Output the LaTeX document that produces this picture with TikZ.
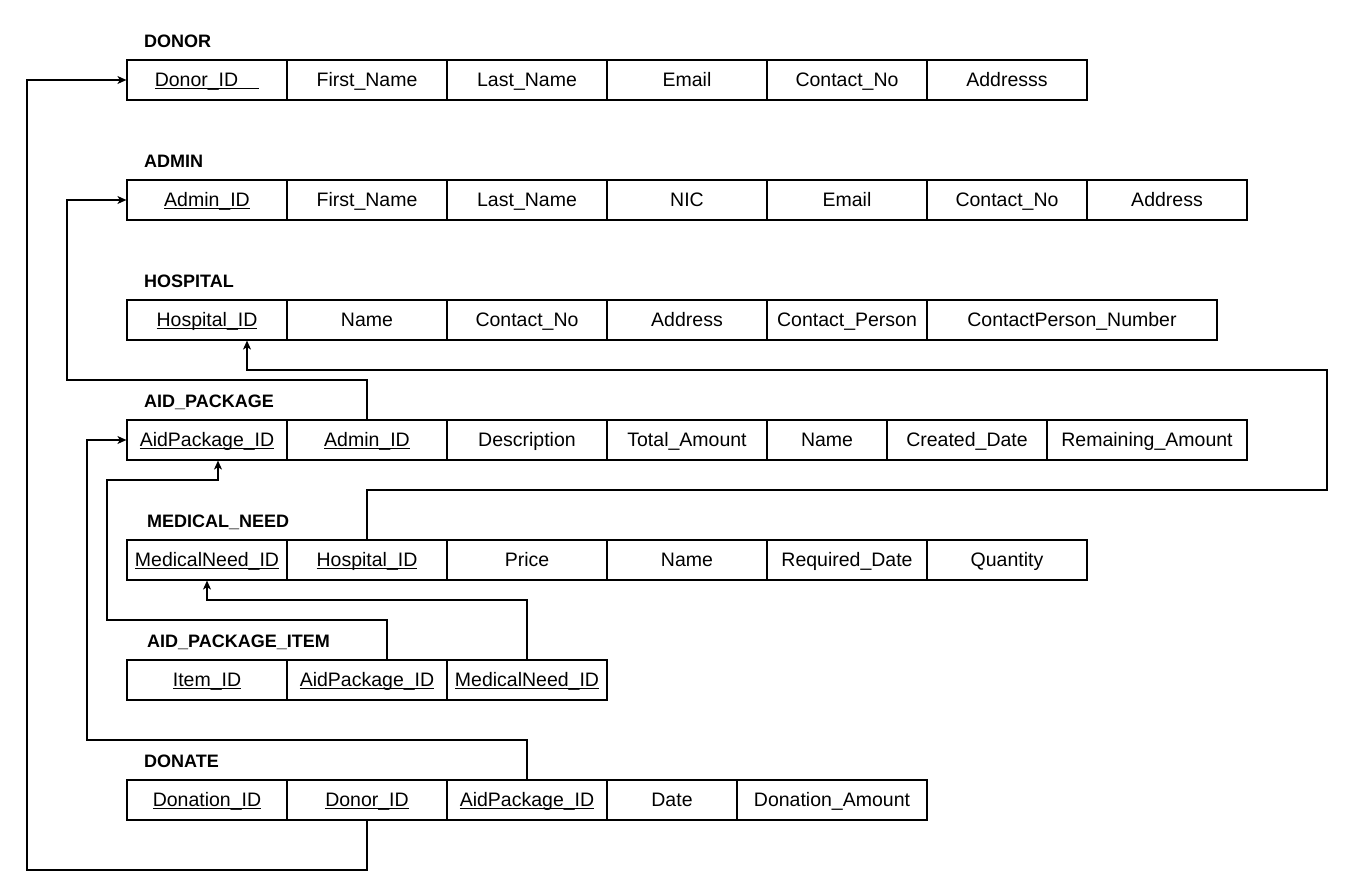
\documentclass[tikz,border=0pt]{standalone}
\usepackage{fontspec}
\setmainfont{Liberation Sans}
\usetikzlibrary{arrows.meta}
\newcommand\ulk[1]{\setbox0\hbox{#1}\rlap{\rule[-2.6pt]{\wd0}{1.1pt}}\box0}
\tikzset{
  cell/.style={draw=black, line width=1.2pt, minimum height=40pt, inner sep=0pt, anchor=center,
    text height=14pt, text depth=0.6pt,
    font=\fontsize{19.5}{23}\selectfont},
  ttl/.style={anchor=west, inner sep=0pt, text height=13pt, text depth=0pt, font=\fontsize{18}{22}\selectfont\bfseries},
  conn/.style={draw=black, line width=1.2pt, -{Stealth[length=9pt,width=8pt,inset=2.5pt]}},
}
\begin{document}
\begin{tikzpicture}[x=1pt,y=-1pt]
\useasboundingbox (0,0) rectangle (1350,893);
% DONOR
\node[ttl] (tdonor) at (144,41) {DONOR};
\node[cell,minimum width=160pt] (d1) at (207,80) {\ulk{Donor\_ID\hspace{21pt}}};
\node[cell,minimum width=160pt] (d2) at (367,80) {First\_Name};
\node[cell,minimum width=160pt] (d3) at (527,80) {Last\_Name};
\node[cell,minimum width=160pt] (d4) at (687,80) {Email};
\node[cell,minimum width=160pt] (d5) at (847,80) {Contact\_No};
\node[cell,minimum width=160pt] (d6) at (1007,80) {Addresss};
% ADMIN
\node[ttl] (tadmin) at (144,161) {ADMIN};
\node[cell,minimum width=160pt] (a1) at (207,200) {\ulk{Admin\_ID}};
\node[cell,minimum width=160pt] (a2) at (367,200) {First\_Name};
\node[cell,minimum width=160pt] (a3) at (527,200) {Last\_Name};
\node[cell,minimum width=160pt] (a4) at (687,200) {NIC};
\node[cell,minimum width=160pt] (a5) at (847,200) {Email};
\node[cell,minimum width=160pt] (a6) at (1007,200) {Contact\_No};
\node[cell,minimum width=160pt] (a7) at (1167,200) {Address};
% HOSPITAL
\node[ttl] (thosp) at (144,281) {HOSPITAL};
\node[cell,minimum width=160pt] (h1) at (207,320) {\ulk{Hospital\_ID}};
\node[cell,minimum width=160pt] (h2) at (367,320) {Name};
\node[cell,minimum width=160pt] (h3) at (527,320) {Contact\_No};
\node[cell,minimum width=160pt] (h4) at (687,320) {Address};
\node[cell,minimum width=160pt] (h5) at (847,320) {Contact\_Person};
\node[cell,minimum width=290pt] (h6) at (1072,320) {ContactPerson\_Number};
% AID_PACKAGE
\node[ttl] (tap) at (144,401) {AID\_PACKAGE};
\node[cell,minimum width=160pt] (ap1) at (207,440) {\ulk{AidPackage\_ID}};
\node[cell,minimum width=160pt] (ap2) at (367,440) {\ulk{Admin\_ID}};
\node[cell,minimum width=160pt] (ap3) at (527,440) {Description};
\node[cell,minimum width=160pt] (ap4) at (687,440) {Total\_Amount};
\node[cell,minimum width=120pt] (ap5) at (827,440) {Name};
\node[cell,minimum width=160pt] (ap6) at (967,440) {Created\_Date};
\node[cell,minimum width=200pt] (ap7) at (1147,440) {Remaining\_Amount};
% MEDICAL_NEED
\node[ttl] (tmn) at (147,521) {MEDICAL\_NEED};
\node[cell,minimum width=160pt] (m1) at (207,560) {\ulk{MedicalNeed\_ID}};
\node[cell,minimum width=160pt] (m2) at (367,560) {\ulk{Hospital\_ID}};
\node[cell,minimum width=160pt] (m3) at (527,560) {Price};
\node[cell,minimum width=160pt] (m4) at (687,560) {Name};
\node[cell,minimum width=160pt] (m5) at (847,560) {Required\_Date};
\node[cell,minimum width=160pt] (m6) at (1007,560) {Quantity};
% AID_PACKAGE_ITEM
\node[ttl] (tai) at (147,641) {AID\_PACKAGE\_ITEM};
\node[cell,minimum width=160pt] (ai1) at (207,680) {\ulk{Item\_ID}};
\node[cell,minimum width=160pt] (ai2) at (367,680) {\ulk{AidPackage\_ID}};
\node[cell,minimum width=160pt] (ai3) at (527,680) {\ulk{MedicalNeed\_ID}};
% DONATE
\node[ttl] (tdn) at (144,761) {DONATE};
\node[cell,minimum width=160pt] (dn1) at (207,800) {\ulk{Donation\_ID}};
\node[cell,minimum width=160pt] (dn2) at (367,800) {\ulk{Donor\_ID}};
\node[cell,minimum width=160pt] (dn3) at (527,800) {\ulk{AidPackage\_ID}};
\node[cell,minimum width=130pt] (dn4) at (672,800) {Date};
\node[cell,minimum width=190pt] (dn5) at (832,800) {Donation\_Amount};
% connectors
\draw[conn] (dn2.south) -- (367,870) -- (27,870) |- (d1.west);
\draw[conn] (ap2.north) -- (367,380) -- (67,380) |- (a1.west);
\draw[conn] (m2.north) -- (367,490) -- (1327,490) -- (1327,370) -- (247,370) -- ([xshift=40pt]h1.south);
\draw[conn] (dn3.north) -- (527,740) -- (87,740) |- (ap1.west);
\draw[conn] ([xshift=20pt]ai2.north) -- (387,620) -- (107,620) -- (107,480) -- (218,480) -- ([xshift=11pt]ap1.south);
\draw[conn] (ai3.north) -- (527,600) -- (207,600) -- (m1.south);
\end{tikzpicture}
\end{document}
